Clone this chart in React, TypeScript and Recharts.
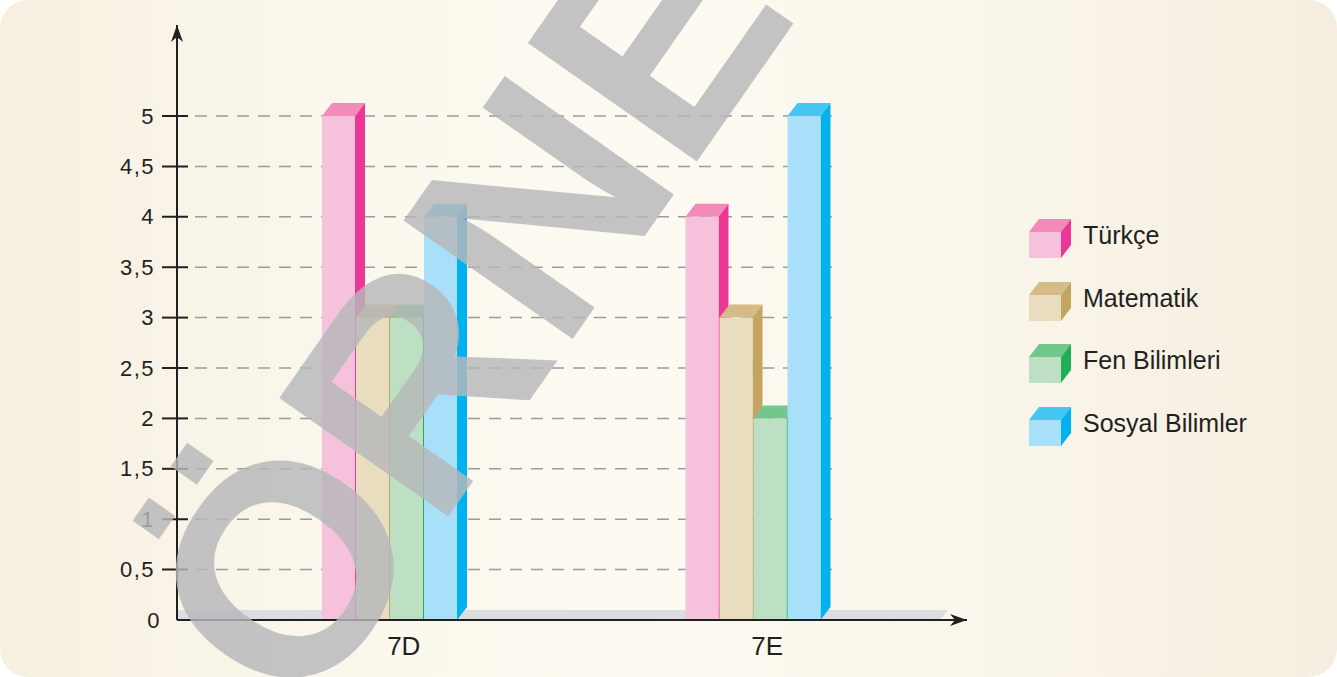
import React from "react";
import {
  BarChart,
  Bar,
  XAxis,
  YAxis,
  CartesianGrid,
  ReferenceLine,
  Legend,
} from "recharts";

// Classes on the x axis
const CLASSES = ["7D", "7E"];

// Scores per subject, one value per class
const TURKCE = [5, 4];
const MATEMATIK = [3, 3];
const FEN = [3, 2];
const SOSYAL = [4, 5];

const Y_TICKS = [0, 0.5, 1, 1.5, 2, 2.5, 3, 3.5, 4, 4.5, 5];
const Y_MAX = 5.903; // axis arrow tip above the last tick

const INK = "#231f20";
const FONT = '"Liberation Sans", Arial, Helvetica, sans-serif';

const SERIES = [
  { key: "turkce", name: "Türkçe", values: TURKCE, front: "#f6c1da", top: "#f28bb9", side: "#ec3895" },
  { key: "matematik", name: "Matematik", values: MATEMATIK, front: "#e9ddc0", top: "#d5bb88", side: "#c3a461" },
  { key: "fen", name: "Fen Bilimleri", values: FEN, front: "#bde0c4", top: "#73c68c", side: "#20b054" },
  { key: "sosyal", name: "Sosyal Bilimler", values: SOSYAL, front: "#a9e0f9", top: "#44c7f3", side: "#00b3ee" },
];

const data = CLASSES.map((name, i) => {
  const row: Record<string, string | number> = { name };
  SERIES.forEach((s) => (row[s.key] = s.values[i]));
  return row;
});

const DX = 10;
const DY = 13;

type Colors = { front: string; top: string; side: string };

function Box3D(props: any) {
  const { x, y, width, height, c } = props as { x: number; y: number; width: number; height: number; c: Colors };
  if (!height || height <= 0) return null;
  const w = width - 1;
  return (
    <g>
      <polygon
        points={`${x},${y} ${x + DX},${y - DY} ${x + w + DX},${y - DY} ${x + w},${y}`}
        fill={c.top}
      />
      <polygon
        points={`${x + w},${y} ${x + w + DX},${y - DY} ${x + w + DX},${y + height - DY} ${x + w},${y + height}`}
        fill={c.side}
      />
      <rect x={x} y={y} width={w} height={height} fill={c.front} />
    </g>
  );
}

function YTick(props: any) {
  const { x, y, payload } = props;
  const v = payload.value as number;
  const label = String(v).replace(".", ",");
  return (
    <g>
      {v !== 0 && <line x1={x - 15} x2={x + 11} y1={y} y2={y} stroke={INK} strokeWidth={2} />}
      <text
        x={v === 0 ? x - 16 : x - 22}
        y={y}
        textAnchor="end"
        dominantBaseline="central"
        fontFamily={FONT}
        fontSize={22}
        letterSpacing={1.5}
        fill={INK}
      >
        {label}
      </text>
    </g>
  );
}

function XTick(props: any) {
  const { x, y, payload } = props;
  return (
    <text
      x={x + 14}
      y={y + 26}
      textAnchor="middle"
      dominantBaseline="central"
      fontFamily={FONT}
      fontSize={26}
      fill={INK}
    >
      {payload.value}
    </text>
  );
}

function GridLine(p: any) {
  // no dashes on the axis itself or at the arrow tip
  if (Math.abs(p.y1 - p.y) < 2 || Math.abs(p.y1 - (p.y + p.height)) < 2) return <g key={p.key} />;
  return (
    <line
      key={p.key}
      x1={p.x1 + 18}
      x2={p.x2 - 135}
      y1={p.y1}
      y2={p.y2}
      stroke="#9b9b9b"
      strokeWidth={1.5}
      strokeDasharray="12 9"
    />
  );
}

function Cube({ c }: { c: Colors }) {
  return (
    <svg width={42} height={39} style={{ display: "block", flex: "none" }}>
      <polygon points="0,13 10,0 42,0 32,13" fill={c.top} />
      <polygon points="32,13 42,0 42,26 32,39" fill={c.side} />
      <rect x={0} y={13} width={32} height={26} fill={c.front} />
    </svg>
  );
}

function LegendContent() {
  return (
    <div>
      {SERIES.map((s) => (
        <div key={s.key} style={{ display: "flex", alignItems: "flex-start", height: 62.7 }}>
          <Cube c={s} />
          <span
            style={{
              marginLeft: 12,
              lineHeight: "33px",
              fontFamily: FONT,
              fontSize: 25,
              color: INK,
              whiteSpace: "nowrap",
            }}
          >
            {s.name}
          </span>
        </div>
      ))}
    </div>
  );
}

export default function App() {
  return (
    <div style={{ position: "absolute", left: 0, top: 0, width: 1337, height: 677, background: "#fff" }}>
      <div
        style={{
          position: "absolute",
          inset: 0,
          borderRadius: 28,
          overflow: "hidden",
          background: "linear-gradient(90deg, #f6f0e1 0%, #fbf8ee 30%, #fdfaf1 50%, #faf5ea 75%, #f5eee0 100%)",
        }}
      >
        <BarChart
          width={1337}
          height={677}
          data={data}
          margin={{ top: 25, right: 370, bottom: 17, left: 0 }}
          barSize={34}
          barGap={0}
        >
          <CartesianGrid vertical={false} horizontal={GridLine} />
          <ReferenceLine
            y={0}
            zIndex={-60}
            shape={(p: any) => (
              <polygon
                points={`${p.x1},${p.y1 - 10} ${p.x2 - 19},${p.y1 - 10} ${p.x2 - 27},${p.y1} ${p.x1},${p.y1}`}
                fill="#dcdde0"
              />
            )}
          />
          {SERIES.map((s) => (
            <Bar
              key={s.key}
              dataKey={s.key}
              name={s.name}
              isAnimationActive={false}
              shape={(p: any) => <Box3D {...p} c={s} />}
            />
          ))}
          <XAxis
            dataKey="name"
            padding={{ left: 31, right: 32 }}
            axisLine={{ stroke: INK, strokeWidth: 2 }}
            tickLine={false}
            tickSize={0}
            tickMargin={0}
            height={40}
            tick={<XTick />}
          />
          <YAxis
            domain={[0, Y_MAX]}
            ticks={Y_TICKS}
            width={177}
            axisLine={{ stroke: INK, strokeWidth: 2 }}
            tickLine={false}
            tickSize={0}
            tickMargin={0}
            tick={<YTick />}
            interval={0}
          />
          <ReferenceLine
            y={0}
            shape={(p: any) => (
              <polygon
                points={`${p.x2},${p.y1} ${p.x2 - 17},${p.y1 - 6} ${p.x2 - 12},${p.y1} ${p.x2 - 17},${p.y1 + 6}`}
                fill={INK}
              />
            )}
          />
          <ReferenceLine
            y={Y_MAX}
            shape={(p: any) => (
              <polygon
                points={`${p.x1},${p.y1} ${p.x1 - 6},${p.y1 + 17} ${p.x1},${p.y1 + 12} ${p.x1 + 6},${p.y1 + 17}`}
                fill={INK}
              />
            )}
          />
          <Legend
            layout="horizontal"
            verticalAlign="middle"
            align="center"
            content={<LegendContent />}
            wrapperStyle={{ left: 1029, top: 219, width: 300, height: "auto" }}
          />
        </BarChart>
        {/* sample watermark */}
        <svg
          width={1337}
          height={677}
          style={{ position: "absolute", left: 0, top: 0, pointerEvents: "none" }}
        >
          <text
            x={303}
            y={724}
            transform="rotate(-55 303 724)"
            fontFamily={FONT}
            fontWeight="bold"
            fontSize={300}
            fill="#b6b7b9"
            fillOpacity={0.82}
          >
            ÖRNEK
          </text>
        </svg>
      </div>
    </div>
  );
}
